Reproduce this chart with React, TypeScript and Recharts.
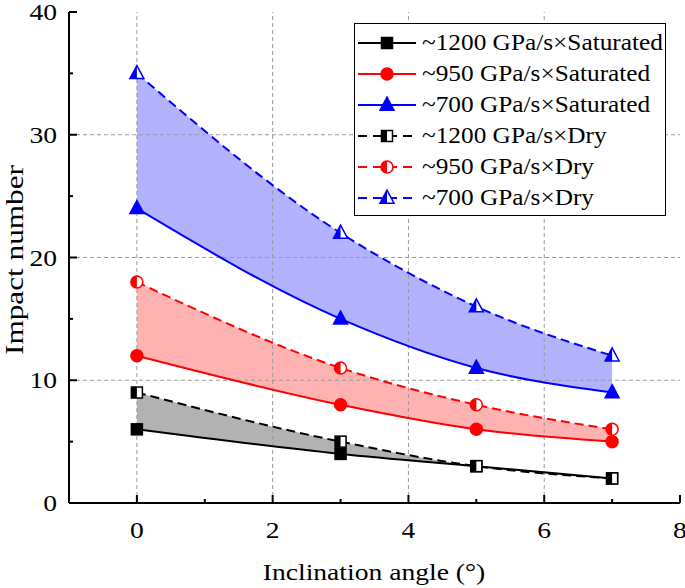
import React from "react";
import { ComposedChart, Area, Line, XAxis, YAxis, ReferenceLine } from "recharts";

const FONT = "Liberation Serif";

const angles = [0, 3, 5, 7];
const sat1200 = [6, 4, 3, 2];
const sat950 = [12, 8, 6, 5];
const sat700 = [24, 15, 11, 9];
const dry1200 = [9, 5, 3, 2];
const dry950 = [18, 11, 8, 6];
const dry700 = [35, 22, 16, 12];

const xTicks = [-1, 0, 1, 2, 3, 4, 5, 6, 7, 8];
const xLabels = [0, 2, 4, 6, 8];
const yTicks = [0, 5, 10, 15, 20, 25, 30, 35, 40];
const yLabels = [0, 10, 20, 30, 40];
const xGrid = [0, 2, 4, 6];
const yGrid = [10, 20, 30];

const data = angles.map((a, i) => ({
  angle: a,
  sat1200: sat1200[i],
  sat950: sat950[i],
  sat700: sat700[i],
  dry1200: dry1200[i],
  dry950: dry950[i],
  dry700: dry700[i],
  band1200: [sat1200[i], dry1200[i]],
  band950: [sat950[i], dry950[i]],
  band700: [sat700[i], dry700[i]],
}));

type Shape = "square" | "circle" | "triangle";

const Marker = ({ cx, cy, shape, color, half }: { cx: number; cy: number; shape: Shape; color: string; half: boolean }) => {
  if (shape === "square") {
    const s = 5.5;
    return (
      <g>
        <rect x={cx - s} y={cy - s} width={2 * s} height={2 * s} fill={half ? "#fff" : color} stroke={color} strokeWidth={1.5} />
        {half && <rect x={cx - s} y={cy - s} width={s} height={2 * s} fill={color} />}
      </g>
    );
  }
  if (shape === "circle") {
    const r = 6;
    return (
      <g>
        <circle cx={cx} cy={cy} r={r} fill={half ? "#fff" : color} stroke={color} strokeWidth={1.5} />
        {half && <path d={`M${cx},${cy - r} A${r},${r} 0 0 0 ${cx},${cy + r} Z`} fill={color} />}
      </g>
    );
  }
  const w = 7;
  const h = 13;
  const top = cy - h * 0.6;
  const bot = cy + h * 0.4;
  return (
    <g>
      <polygon points={`${cx},${top} ${cx + w},${bot} ${cx - w},${bot}`} fill={half ? "#fff" : color} stroke={color} strokeWidth={1.5} />
      {half && <polygon points={`${cx},${top} ${cx},${bot} ${cx - w},${bot}`} fill={color} />}
    </g>
  );
};

const dotFor = (shape: Shape, color: string, half: boolean) => (p: any) => (
  <Marker key={`${shape}-${half}-${p.index}`} cx={p.cx} cy={p.cy} shape={shape} color={color} half={half} />
);

// the source figure is a bit wider than tall, so text gets stretched sideways
const Label = ({ x, y, anchor, size, children }: { x: number; y: number; anchor: "start" | "middle" | "end"; size: number; children: React.ReactNode }) => (
  <text transform={`translate(${x},${y}) scale(1.2,1)`} textAnchor={anchor} fontSize={size} fill="#000" style={{ fontFamily: FONT }}>
    {children}
  </text>
);

const BottomTick = (props: any) => {
  const { x, y, payload } = props;
  const major = xLabels.includes(payload.value);
  return (
    <g>
      <line x1={x} y1={y} x2={x} y2={y - (major ? 8 : 4)} stroke="#000" strokeWidth={2} />
      {major && (
        <Label x={x} y={y + 35} anchor="middle" size={23}>
          {payload.value}
        </Label>
      )}
    </g>
  );
};

const TopTick = (props: any) => {
  const { x, y, payload } = props;
  const major = xLabels.includes(payload.value);
  return <line x1={x} y1={y} x2={x} y2={y + (major ? 8 : 4)} stroke="#000" strokeWidth={2} />;
};

const LeftTick = (props: any) => {
  const { x, y, payload } = props;
  const major = yLabels.includes(payload.value);
  return (
    <g>
      <line x1={x} y1={y} x2={x + (major ? 8 : 4)} y2={y} stroke="#000" strokeWidth={2} />
      {major && (
        <Label x={x - 12} y={y + 8} anchor="end" size={23}>
          {payload.value}
        </Label>
      )}
    </g>
  );
};

const RightTick = (props: any) => {
  const { x, y, payload } = props;
  const major = yLabels.includes(payload.value);
  return <line x1={x} y1={y} x2={x - (major ? 8 : 4)} y2={y} stroke="#000" strokeWidth={2} />;
};

const legendItems: { label: string; color: string; shape: Shape; half: boolean }[] = [
  { label: "~1200 GPa/s×Saturated", color: "#000000", shape: "square", half: false },
  { label: "~950 GPa/s×Saturated", color: "#ff0000", shape: "circle", half: false },
  { label: "~700 GPa/s×Saturated", color: "#0000ff", shape: "triangle", half: false },
  { label: "~1200 GPa/s×Dry", color: "#000000", shape: "square", half: true },
  { label: "~950 GPa/s×Dry", color: "#ff0000", shape: "circle", half: true },
  { label: "~700 GPa/s×Dry", color: "#0000ff", shape: "triangle", half: true },
];

const LegendBox = () => (
  <div
    style={{
      position: "absolute",
      left: 354,
      top: 23,
      width: 310,
      height: 188,
      border: "1.5px solid #000",
      background: "#fff",
      paddingTop: 3,
      boxSizing: "content-box",
    }}
  >
    {legendItems.map((it) => (
      <div key={it.label} style={{ display: "flex", alignItems: "center", height: 31 }}>
        <svg width={66} height={24} style={{ flex: "none" }}>
          <line x1={3} y1={12} x2={61} y2={12} stroke={it.color} strokeWidth={2} strokeDasharray={it.half ? "9 6" : undefined} />
          <Marker cx={32} cy={12} shape={it.shape} color={it.color} half={it.half} />
        </svg>
        <span
          style={{
            fontFamily: FONT,
            fontSize: 23,
            color: "#000",
            whiteSpace: "nowrap",
            marginLeft: 1,
            display: "inline-block",
            transform: "scaleX(1.1)",
            transformOrigin: "left center",
          }}
        >
          {it.label}
        </span>
      </div>
    ))}
  </div>
);

export default function App() {
  return (
    <div style={{ position: "absolute", left: 0, top: 0, width: 685, height: 588, background: "#fff", fontFamily: FONT }}>
      <ComposedChart width={685} height={588} data={data} margin={{ top: 12, right: 5, bottom: 0, left: 0 }}>
        <XAxis
          dataKey="angle"
          type="number"
          domain={[-1, 8]}
          ticks={xTicks}
          interval={0}
          height={85}
          tickSize={0}
          tickMargin={0}
          tickLine={false}
          tick={<BottomTick />}
          axisLine={{ stroke: "#000", strokeWidth: 2 }}
        />
        <XAxis
          xAxisId="top"
          orientation="top"
          dataKey="angle"
          type="number"
          domain={[-1, 8]}
          ticks={xTicks}
          interval={0}
          height={0}
          tickSize={0}
          tickMargin={0}
          tickLine={false}
          tick={<TopTick />}
          axisLine={{ stroke: "#000", strokeWidth: 2 }}
        />
        <YAxis
          type="number"
          domain={[0, 40]}
          ticks={yTicks}
          interval={0}
          width={69}
          tickSize={0}
          tickMargin={0}
          tickLine={false}
          tick={<LeftTick />}
          axisLine={{ stroke: "#000", strokeWidth: 2 }}
        />
        <YAxis
          yAxisId="right"
          orientation="right"
          type="number"
          domain={[0, 40]}
          ticks={yTicks}
          interval={0}
          width={0}
          tickSize={0}
          tickMargin={0}
          tickLine={false}
          tick={<RightTick />}
          axisLine={{ stroke: "#000", strokeWidth: 2 }}
        />
        {xGrid.map((v) => (
          <ReferenceLine key={`gx${v}`} x={v} stroke="#9a9a9a" strokeDasharray="4 3" strokeWidth={1} />
        ))}
        {yGrid.map((v) => (
          <ReferenceLine key={`gy${v}`} y={v} stroke="#9a9a9a" strokeDasharray="4 3" strokeWidth={1} />
        ))}
        <Area type="monotone" dataKey="band1200" stroke="none" fill="#000000" fillOpacity={0.3} isAnimationActive={false} />
        <Area type="monotone" dataKey="band950" stroke="none" fill="#ff0000" fillOpacity={0.3} isAnimationActive={false} />
        <Area type="monotone" dataKey="band700" stroke="none" fill="#0000ff" fillOpacity={0.3} isAnimationActive={false} />
        <Line type="monotone" dataKey="sat1200" stroke="#000000" strokeWidth={2} dot={dotFor("square", "#000000", false)} activeDot={false} isAnimationActive={false} />
        <Line type="monotone" dataKey="sat950" stroke="#ff0000" strokeWidth={2} dot={dotFor("circle", "#ff0000", false)} activeDot={false} isAnimationActive={false} />
        <Line type="monotone" dataKey="sat700" stroke="#0000ff" strokeWidth={2} dot={dotFor("triangle", "#0000ff", false)} activeDot={false} isAnimationActive={false} />
        <Line type="monotone" dataKey="dry1200" stroke="#000000" strokeWidth={2} strokeDasharray="9 5" dot={dotFor("square", "#000000", true)} activeDot={false} isAnimationActive={false} />
        <Line type="monotone" dataKey="dry950" stroke="#ff0000" strokeWidth={2} strokeDasharray="9 5" dot={dotFor("circle", "#ff0000", true)} activeDot={false} isAnimationActive={false} />
        <Line type="monotone" dataKey="dry700" stroke="#0000ff" strokeWidth={2} strokeDasharray="9 5" dot={dotFor("triangle", "#0000ff", true)} activeDot={false} isAnimationActive={false} />
        <Label x={374} y={580} anchor="middle" size={23}>
          Inclination angle (°)
        </Label>
        <text transform="translate(23,260) rotate(-90) scale(1.25,1)" textAnchor="middle" fontSize={25} fill="#000" style={{ fontFamily: FONT }}>
          Impact number
        </text>
      </ComposedChart>
      <LegendBox />
    </div>
  );
}
